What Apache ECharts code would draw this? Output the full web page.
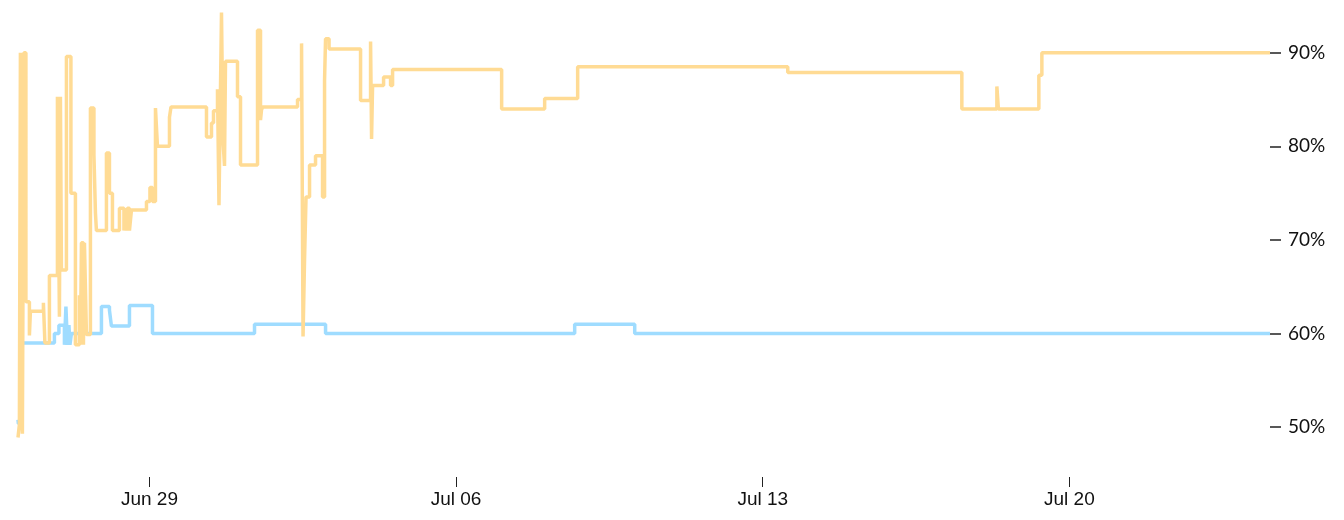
<!DOCTYPE html>
<html>
<head>
<meta charset="utf-8">
<script src="https://cdn.jsdelivr.net/npm/echarts@6/dist/echarts.min.js"></script>
<style>
html,body{margin:0;padding:0;background:#fff;}
#chart{width:1344px;height:520px;}
</style>
</head>
<body>
<div id="chart"></div>
<script>
// Hours since Jun 26 00:00 and percentage values (step changes)
const orangeHours = [0,0.77,1.32,2.41,3.23,4.33,6.25,6.80,13.92,14.74,17.21,21.60,22.69,23.24,23.79,26.53,28.99,31.46,33.65,34.20,34.75,35.85,36.40,37.49,39.68,41.60,42.42,42.97,48.45,50.10,51.74,55.58,58.04,58.59,59.41,59.96,61.06,62.15,70.38,72.29,73.67,75.31,76.40,82.98,83.81,103.26,106.00,107.10,109.29,110.11,110.93,111.48,112.31,113.13,113.68,120.25,121.90,131.22,132.86,133.41,133.96,153.14,155.34,156.16,156.98,157.80,159.72,163.00,166.84,167.94,168.49,170.41,187.67,193.15,193.70,194.25,200.28,204.11,205.21,264.96,288.52,306.61,421.71,517.08,536.27,537.09,559.27,560.92,685.90];
const orangeValues = [48.9,50.3,90.0,49.3,90.0,63.4,59.8,62.4,63.3,59.0,66.2,85.3,61.8,85.3,66.8,89.6,75.0,58.8,64.1,58.8,69.7,58.8,69.7,59.9,84.1,79.1,72.9,71.0,79.3,75.0,71.0,73.4,71.0,73.4,71.0,73.4,71.0,73.2,74.1,75.6,74.1,84.1,80.0,83.1,84.2,81.0,82.5,83.8,86.1,73.7,86.1,94.3,80.7,77.9,89.1,85.3,78.0,92.4,82.8,83.9,84.2,85.0,91.0,59.7,67.9,74.6,78.0,79.0,74.6,87.0,91.5,90.4,84.9,91.2,80.8,86.5,87.4,86.5,88.2,84.0,85.1,88.5,87.9,84.0,86.4,84.0,87.6,90.0,90.0];
const blueHours = [0,0.2,1.86,19.95,22.42,25.43,26.25,27.08,27.90,28.45,29.27,45.71,50.10,51.19,61.06,73.67,129.57,168.49,304.97,337.86,685.90];
const blueValues = [50.8,50.4,59.0,60.0,60.9,58.8,62.9,58.8,60.9,58.8,60.0,62.9,62.5,60.8,63.0,60.0,61.0,60.0,61.0,60.0,60.0];
const xTickLabels = ['Jun 29','Jul 06','Jul 13','Jul 20'];
const xTickHours = [72,240,408,576];

const toPts = (hs, vs) => hs.map((h,i)=>[h, vs[i]]);

const chart = echarts.init(document.getElementById('chart'), null, {renderer:'canvas'});
chart.setOption({
  animation:false,
  grid:{left:18,right:74,top:5,bottom:75,outerBoundsMode:'none',containLabel:false},
  xAxis:{
    type:'value',
    min:0, max:orangeHours[orangeHours.length-1],
    offset:32,
    axisLine:{show:false,onZero:false},
    splitLine:{show:false},
    axisTick:{show:true,length:10,customValues:xTickHours,lineStyle:{color:'#222',width:1}},
    axisLabel:{
      customValues:xTickHours,
      margin:13,
      color:'#111',
      fontFamily:'Liberation Sans',
      fontSize:19,
      formatter:function(v){
        let best=0,bd=Infinity;
        xTickHours.forEach((t,i)=>{const d=Math.abs(t-v); if(d<bd){bd=d;best=i;}});
        return xTickLabels[best];
      }
    }
  },
  yAxis:{
    type:'value',
    position:'right',
    min:48.1, max:95.1,
    splitNumber:5,
    axisLine:{show:false,onZero:false},
    splitLine:{show:false},
    axisTick:{show:true,length:11,lineStyle:{color:'#222',width:1.5}},
    axisLabel:{margin:18,color:'#111',fontFamily:'Lato',fontSize:19,formatter:'{value}%',showMinLabel:false,showMaxLabel:false}
  },
  series:[
    {type:'line',step:'end',data:toPts(blueHours,blueValues),showSymbol:false,
     lineStyle:{color:'#9fdcff',width:3.5},itemStyle:{color:'#9fdcff'},z:2},
    {type:'line',step:'end',data:toPts(orangeHours,orangeValues),showSymbol:false,
     lineStyle:{color:'#ffdb94',width:3.5},itemStyle:{color:'#ffdb94'},z:3}
  ]
});
</script>
</body>
</html>
